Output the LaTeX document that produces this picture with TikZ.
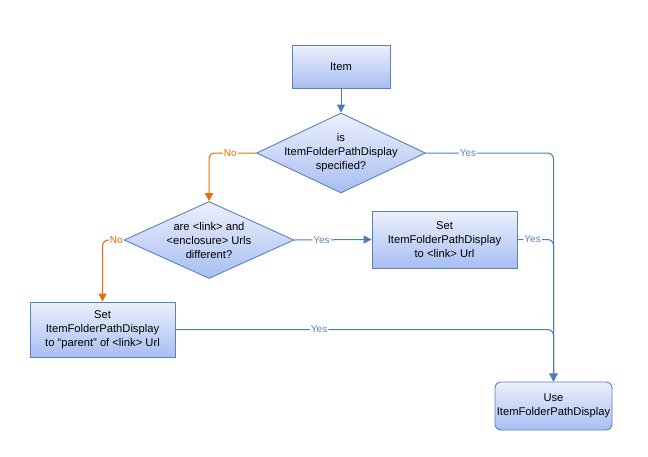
\documentclass[tikz,border=0pt]{standalone}
\usepackage{fontspec}
\setmainfont{Liberation Sans}
\usetikzlibrary{shapes.geometric,arrows.meta}
\definecolor{edgeblue}{HTML}{4F7CB8}
\definecolor{yesblue}{HTML}{5B84C4}
\definecolor{noorange}{HTML}{E46C0A}
\definecolor{boxtop}{HTML}{ECF0FC}
\definecolor{boxbot}{HTML}{A8BEF2}
\definecolor{boxline}{HTML}{5A82BE}
\tikzset{
  procbox/.style={draw=boxline, line width=0.9pt, top color=boxtop, bottom color=boxbot,
    align=center, inner sep=0pt, font=\fontsize{11.2}{14}\selectfont},
  decbox/.style={diamond, draw=boxline, line width=0.9pt, top color=boxtop, bottom color=boxbot,
    inner sep=0pt},
  dtext/.style={align=center, font=\fontsize{11.2}{14}\selectfont},
  yesline/.style={draw=edgeblue, line width=1pt, rounded corners=6pt, -{Triangle[width=8pt,length=8pt]}},
  noline/.style={draw=noorange, line width=1pt, rounded corners=6pt, -{Triangle[width=8pt,length=8pt]}},
  yeslab/.style={fill=white, text=yesblue, inner sep=1pt, font=\fontsize{10}{11}\selectfont},
  nolab/.style={fill=white, text=noorange, inner sep=1pt, font=\fontsize{10}{11}\selectfont}
}
\begin{document}
\begin{tikzpicture}[x=1pt,y=-1pt]
\useasboundingbox (0,0) rectangle (648,456);
\node[procbox, minimum width=98pt, minimum height=43pt] (item) at (341,66.5) {Item};
\node[decbox, minimum width=169pt, minimum height=80pt] (d1) at (341,153) {};
\node[dtext] (d1t) at (341,153) {is\\ItemFolderPathDisplay\\specified?};
\node[decbox, minimum width=170pt, minimum height=77pt] (d2) at (209,240) {};
\node[dtext] (d2t) at (209,240) {are <link> and\\<enclosure> Urls\\different?};
\node[procbox, minimum width=145pt, minimum height=57pt] (s1) at (444.5,239.5) {Set\\ItemFolderPathDisplay\\to <link> Url};
\node[procbox, minimum width=145pt, minimum height=55pt] (s2) at (102.5,329.5) {Set\\ItemFolderPathDisplay\\to “parent” of <link> Url};
\node[procbox, rounded corners=6pt, minimum width=117pt, minimum height=48pt] (use) at (553.5,406) {Use\\ItemFolderPathDisplay};

\draw[yesline] (item) -- (d1);
\draw[yesline] (d1.east) -- node[yeslab, pos=0.33] {Yes} (use.north |- d1.east) -- (use.north);
\draw[noline] (d1.west) -- node[nolab, pos=0.55] {No} (d2.north |- d1.west) -- (d2.north);
\draw[yesline] (d2.east) -- node[yeslab, pos=0.35] {Yes} (s1.west);
\draw[noline] (d2.west) -- node[nolab, pos=0.35] {No} (s2.north |- d2.west) -- (s2.north);
\draw[yesline] (s1.east) -- node[yeslab, pos=0.42] {Yes} (use.north |- s1.east) -- (use.north);
\draw[yesline] (s2.east) -- node[yeslab, pos=0.38] {Yes} (use.north |- s2.east) -- (use.north);
\end{tikzpicture}
\end{document}
